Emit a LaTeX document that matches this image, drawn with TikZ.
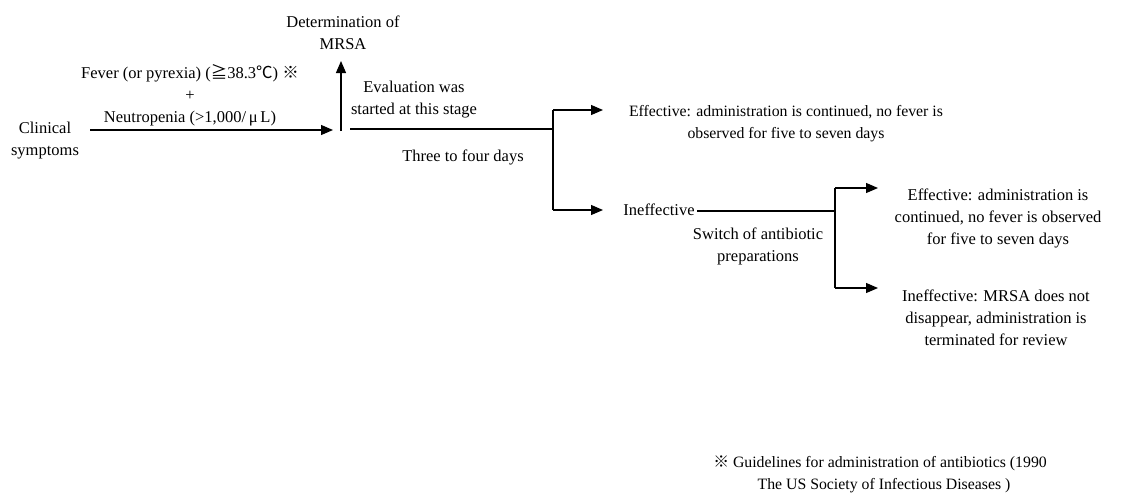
\documentclass[tikz,border=0pt]{standalone}
\usepackage{fontspec}
\setmainfont{Liberation Serif}
\newfontfamily\symfont{Noto Sans CJK JP}
\usetikzlibrary{arrows.meta}
\tikzset{
  lbl/.style={inner sep=0pt, align=center, font=\fontsize{16.5}{22}\selectfont},
  lbls/.style={lbl, font=\fontsize{15.8}{22}\selectfont},
  ln/.style={line width=1.2pt},
  arr/.style={ln, -{Triangle[length=12pt,width=10pt]}}
}
\begin{document}
\begin{tikzpicture}[x=1pt,y=-1pt]
\useasboundingbox (0,0) rectangle (1139,498);
% texts
\node[lbl] (clin) at (45,141) {Clinical\\symptoms};
\node[lbl] (fever) at (190,95) {Fever (or pyrexia) ({\symfont ≧}38.3{\symfont ℃}) {\symfont ※}\\+\\Neutropenia (>1,000/\,μ\,L)};
\node[lbl] (det) at (343,33) {Determination of\\MRSA};
\node[lbl] (eval) at (414,100) {Evaluation was\\started at this stage};
\node[lbl] (three) at (463,157) {Three to four days};
\node[lbls] (eff1) at (786,124) {Effective: administration is continued, no fever is\\observed for five to seven days};
\node[lbl] (ineff) at (659,210) {Ineffective};
\node[lbl] (switch) at (758,246) {Switch of antibiotic\\preparations};
\node[lbl] (eff2) at (998,218) {Effective: administration is\\continued, no fever is observed\\for five to seven days};
\node[lbl] (ineff2) at (996,318) {Ineffective: MRSA does not\\disappear, administration is\\terminated for review};
\node[lbls] (foot) at (880,474) {{\symfont ※} Guidelines for administration of antibiotics (1990\\\hspace*{8pt}The US Society of Infectious Diseases )};
% junction coordinates
\coordinate (s1) at (90,130);
\coordinate (e1) at (333,130);
\coordinate (v1b) at (341,131);
\coordinate (v1t) at (341,61);
\coordinate (h2s) at (350,129);
\coordinate (j2) at (553,129);
\coordinate (j2t) at (553,110);
\coordinate (j2b) at (553,210);
\coordinate (a2t) at (603,110);
\coordinate (a2b) at (603,210);
\coordinate (h3s) at (697,211);
\coordinate (j3) at (835,211);
\coordinate (j3t) at (835,188);
\coordinate (j3b) at (835,288);
\coordinate (a3t) at (878,188);
\coordinate (a3b) at (878,288);
% connectors
\draw[arr] (s1) -- (e1);
\draw[arr] (v1b) -- (v1t);
\draw[ln] (h2s) -- (j2);
\draw[ln] (j2t) -- (j2b);
\draw[arr] (j2t) -- (a2t);
\draw[arr] (j2b) -- (a2b);
\draw[ln] (h3s) -- (j3);
\draw[ln] (j3t) -- (j3b);
\draw[arr] (j3t) -- (a3t);
\draw[arr] (j3b) -- (a3b);
\end{tikzpicture}
\end{document}
